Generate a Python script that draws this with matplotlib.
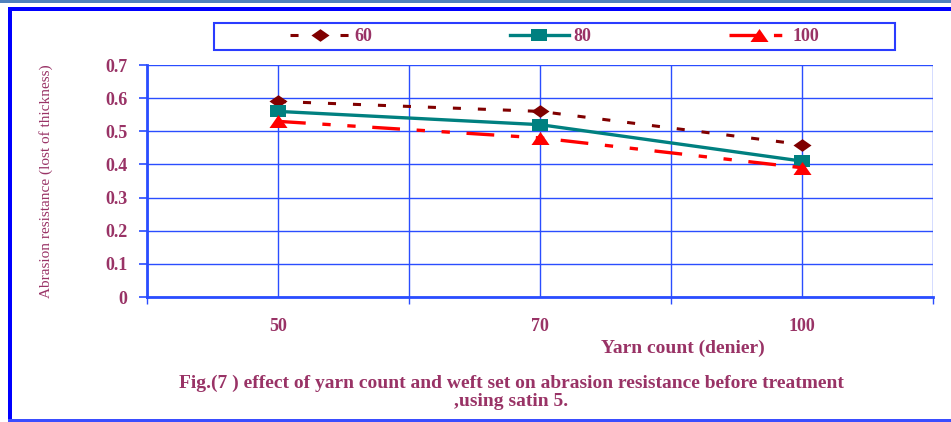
import matplotlib.pyplot as plt
from matplotlib.patches import Rectangle
from matplotlib.ticker import MultipleLocator, FixedLocator

# yarn count categories and abrasion values for each weft set
yarn_counts = ["50", "70", "100"]
weft_60 = [0.59, 0.56, 0.46]
weft_80 = [0.56, 0.52, 0.41]
weft_100 = [0.53, 0.48, 0.39]
series_names = ["60", "80", "100"]

TEXT_COLOR = "#993366"
GRID_COLOR = "#2a4dff"
W, H = 951, 422
FS = 13

plt.rcParams["font.family"] = ["Liberation Serif", "DejaVu Serif"]
plt.rcParams["font.weight"] = "bold"
plt.rcParams["lines.scale_dashes"] = False

# markers drawn a little wider than tall
diamond = [(-1, 0), (0, 0.7), (1, 0), (0, -0.7), (-1, 0)]
wide_square = [(-1, -0.7), (1, -0.7), (1, 0.7), (-1, 0.7), (-1, -0.7)]
wide_triangle = [(-1, -0.72), (1, -0.72), (0, 0.72), (-1, -0.72)]

fig = plt.figure(figsize=(W / 100, H / 100), dpi=100)
ax = fig.add_axes([147 / W, 1 - 297 / H, 786 / W, 232 / H])

x = [i + 0.5 for i in range(len(yarn_counts))]

ax.plot(x, weft_60, color="#800000", lw=2.2, dashes=(5.8, 12.2),
        marker=diamond, ms=13, mec="#800000", mfc="#800000", mew=0,
        label=series_names[0])
ax.plot(x, weft_80, color="#008080", lw=2.4, ls="-",
        marker=wide_square, ms=11.5, mec="#008080", mfc="#008080", mew=0,
        label=series_names[1])
ax.plot(x, weft_100, color="#ff0000", lw=2.4, dashes=(20, 12, 6, 12, 6, 12),
        marker=wide_triangle, ms=13, mec="#ff0000", mfc="#ff0000", mew=0,
        label=series_names[2])

ax.set_xlim(0, len(yarn_counts))
ax.set_ylim(0, 0.7)
ax.yaxis.set_major_locator(MultipleLocator(0.1))
ax.set_yticklabels(["0" if v == 0 else f"{v:.1f}" for v in ax.get_yticks()])
ax.xaxis.set_major_locator(FixedLocator(x))
ax.xaxis.set_minor_locator(FixedLocator(range(len(yarn_counts) + 1)))
ax.set_xticklabels(yarn_counts)

ax.tick_params(axis="y", direction="out", length=6, width=1.2, color=GRID_COLOR,
               labelsize=FS, labelcolor=TEXT_COLOR, pad=8)
ax.tick_params(axis="x", which="major", length=0, labelsize=FS,
               labelcolor=TEXT_COLOR, pad=15)
ax.tick_params(axis="x", which="minor", direction="out", length=5, width=1,
               color=GRID_COLOR)

ax.grid(True, which="both", axis="x", color=GRID_COLOR, lw=1)
ax.grid(True, which="major", axis="y", color=GRID_COLOR, lw=1)
ax.set_axisbelow(True)
for side in ("top", "right"):
    ax.spines[side].set_visible(False)
for side in ("left", "bottom"):
    ax.spines[side].set_color(GRID_COLOR)
    ax.spines[side].set_linewidth(2)

ax.set_ylabel("Abrasion resistance (lost of thickness)", color=TEXT_COLOR,
              fontsize=11, fontweight="normal")
ax.yaxis.set_label_coords(53 / W, (H - 181) / H, transform=fig.transFigure)

fig.text(683 / W, 1 - 348 / H, "Yarn count (denier)", ha="center", va="center",
         color=TEXT_COLOR, fontsize=14)
fig.text(511 / W, 1 - 383 / H,
         "Fig.(7 ) effect of yarn count and weft set on abrasion resistance before treatment",
         ha="center", va="center", color=TEXT_COLOR, fontsize=14)
fig.text(511 / W, 1 - 402 / H, ",using satin 5.", ha="center", va="center",
         color=TEXT_COLOR, fontsize=14)

# legend box across the top
fig.add_artist(Rectangle((214 / W, 1 - 50 / H), 681 / W, 27 / H,
                         transform=fig.transFigure, fill=False,
                         ec="#2a3cff", lw=1.5))
leg = fig.legend(loc="center", bbox_to_anchor=(555 / W, 1 - 36.5 / H),
                 ncol=3, frameon=False, fontsize=FS, handlelength=3.3,
                 handletextpad=0.25, columnspacing=7.6, borderpad=0)
for t in leg.get_texts():
    t.set_color(TEXT_COLOR)

# page frame
fig.add_artist(Rectangle((0, 1 - 3 / H), 1, 3 / H, transform=fig.transFigure,
                         color="#4f81bd", lw=0))
fig.add_artist(Rectangle((8 / W, 1 - 11 / H), 1, 4 / H, transform=fig.transFigure,
                         color="#0000ff", lw=0))
fig.add_artist(Rectangle((8 / W, 0), 4 / W, 1 - 7 / H, transform=fig.transFigure,
                         color="#0000ff", lw=0))
fig.add_artist(Rectangle((8 / W, 0), 1, 3 / H, transform=fig.transFigure,
                         color="#3a4dff", lw=0))

fig.savefig("out.png", dpi=100)
